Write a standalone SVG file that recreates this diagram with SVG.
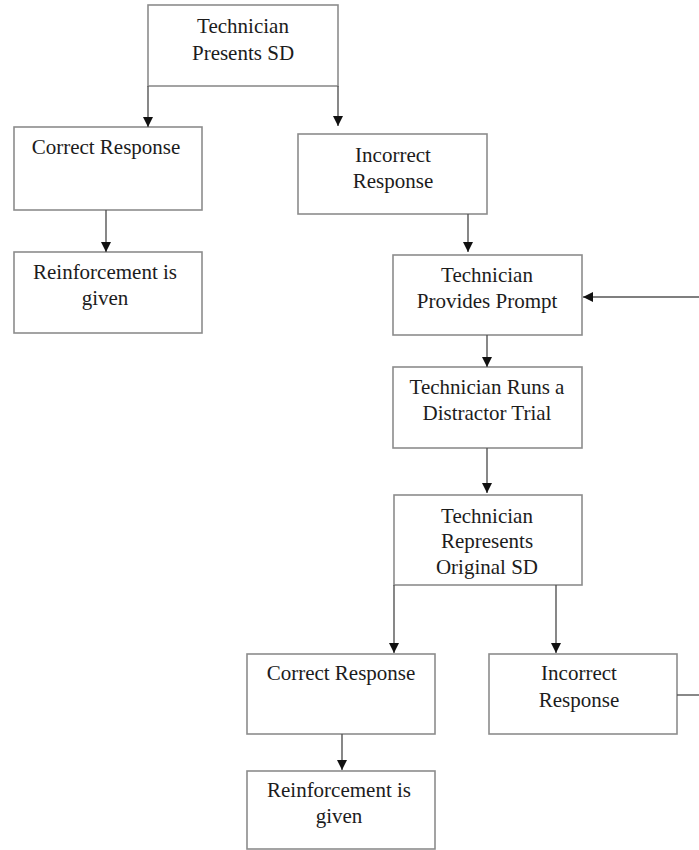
<svg xmlns="http://www.w3.org/2000/svg" width="699" height="850" viewBox="0 0 699 850">
<style>
.box{fill:#fff;stroke:#8c8c8c;stroke-width:1.6}
.lbl{font-family:"Liberation Serif","Times New Roman",serif;font-size:21px;fill:#1c1c1c;text-anchor:middle}
.con{stroke:#555;stroke-width:1.4;fill:none}
.arr{marker-end:url(#ah)}
</style>
<defs>
<marker id="ah" viewBox="0 0 10 10" refX="10" refY="5" markerWidth="10" markerHeight="10" markerUnits="userSpaceOnUse" orient="auto">
<path d="M0,0 L10,5 L0,10 z" fill="#111"/>
</marker>
</defs>
<rect width="699" height="850" fill="#fff"/>
<g id="n1"><rect class="box" x="148" y="5" width="190" height="81"/><text class="lbl" x="243" y="33">Technician</text><text class="lbl" x="243" y="60">Presents SD</text></g>
<g id="n2"><rect class="box" x="14" y="127" width="188" height="83"/><text class="lbl" x="106" y="154">Correct Response</text></g>
<g id="n3"><rect class="box" x="14" y="252" width="188" height="81"/><text class="lbl" x="105" y="279">Reinforcement is</text><text class="lbl" x="105" y="305">given</text></g>
<g id="n4"><rect class="box" x="298" y="134" width="189" height="80"/><text class="lbl" x="393" y="162">Incorrect</text><text class="lbl" x="393" y="188">Response</text></g>
<g id="n5"><rect class="box" x="393" y="255" width="189" height="80"/><text class="lbl" x="487" y="282">Technician</text><text class="lbl" x="487" y="308">Provides Prompt</text></g>
<g id="n6"><rect class="box" x="393" y="367" width="189" height="81"/><text class="lbl" x="487" y="394">Technician Runs a</text><text class="lbl" x="487" y="420">Distractor Trial</text></g>
<g id="n7"><rect class="box" x="394" y="495" width="188" height="90"/><text class="lbl" x="487" y="523">Technician</text><text class="lbl" x="487" y="548">Represents</text><text class="lbl" x="487" y="574">Original SD</text></g>
<g id="n8"><rect class="box" x="247" y="654" width="188" height="80"/><text class="lbl" x="341" y="680">Correct Response</text></g>
<g id="n9"><rect class="box" x="489" y="654" width="188" height="80"/><text class="lbl" x="579" y="680">Incorrect</text><text class="lbl" x="579" y="707">Response</text></g>
<g id="n10"><rect class="box" x="247" y="771" width="188" height="78"/><text class="lbl" x="339" y="797">Reinforcement is</text><text class="lbl" x="339" y="823">given</text></g>
<g id="connectors">
<line class="con arr" x1="148" y1="86" x2="148" y2="127"/>
<line class="con arr" x1="338" y1="86" x2="338" y2="126"/>
<line class="con arr" x1="106" y1="210" x2="106" y2="252"/>
<line class="con arr" x1="468" y1="214" x2="468" y2="252"/>
<line class="con arr" x1="699" y1="297" x2="583" y2="297"/>
<line class="con arr" x1="487" y1="335" x2="487" y2="367"/>
<line class="con arr" x1="487" y1="448" x2="487" y2="493"/>
<line class="con arr" x1="394" y1="585" x2="394" y2="653"/>
<line class="con arr" x1="556" y1="585" x2="556" y2="653"/>
<line class="con arr" x1="342" y1="734" x2="342" y2="770"/>
<line class="con" x1="677" y1="695" x2="699" y2="695"/>
</g>
</svg>
